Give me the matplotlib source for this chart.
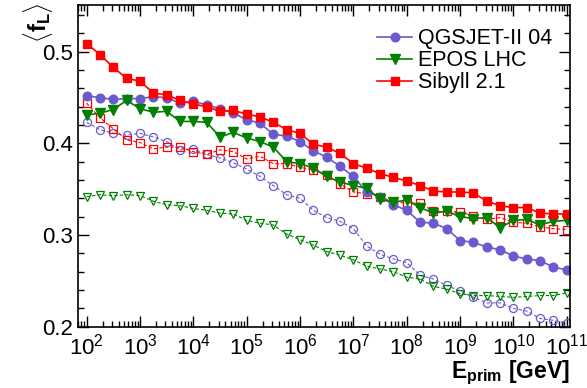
import numpy as np
import matplotlib.pyplot as plt
from matplotlib.ticker import MultipleLocator, FixedLocator, FuncFormatter, LogLocator

plt.rcParams['font.family'] = ['Liberation Sans', 'DejaVu Sans']
plt.rcParams['mathtext.fontset'] = 'custom'
plt.rcParams['mathtext.rm'] = 'Liberation Sans'
plt.rcParams['mathtext.it'] = 'Liberation Sans:italic'
plt.rcParams['mathtext.bf'] = 'Liberation Sans:bold'

# log10(E_prim / GeV)
log_e = np.arange(2.0, 11.01, 0.25)

# filled markers, solid lines
qgsjet = [0.452, 0.450, 0.448, 0.449, 0.449, 0.451, 0.450, 0.444, 0.446, 0.442,
          0.438, 0.433, 0.426, 0.422, 0.410, 0.408, 0.402, 0.392, 0.385, 0.375,
          0.364, 0.347, 0.342, 0.333, 0.327, 0.314, 0.313, 0.307, 0.294, 0.292,
          0.287, 0.284, 0.277, 0.274, 0.272, 0.265, 0.262]
epos = [0.431, 0.433, 0.437, 0.447, 0.438, 0.434, 0.435, 0.424, 0.424, 0.423,
        0.407, 0.412, 0.406, 0.402, 0.396, 0.380, 0.378, 0.373, 0.364, 0.358,
        0.354, 0.351, 0.339, 0.336, 0.338, 0.330, 0.324, 0.326, 0.320, 0.318,
        0.319, 0.308, 0.316, 0.317, 0.311, 0.315, 0.316]
sibyll = [0.509, 0.497, 0.483, 0.471, 0.468, 0.455, 0.453, 0.447, 0.443, 0.440,
          0.435, 0.436, 0.432, 0.429, 0.423, 0.415, 0.411, 0.399, 0.396, 0.389,
          0.378, 0.373, 0.367, 0.363, 0.359, 0.354, 0.348, 0.347, 0.347, 0.346,
          0.337, 0.332, 0.330, 0.330, 0.324, 0.323, 0.323]

# open markers, dashed lines
qgsjet_open = [0.423, 0.415, 0.411, 0.409, 0.411, 0.407, 0.402, 0.393, 0.394, 0.388,
               0.384, 0.379, 0.372, 0.364, 0.354, 0.344, 0.340, 0.327, 0.319, 0.315,
               0.307, 0.288, 0.279, 0.274, 0.270, 0.256, 0.252, 0.245, 0.239, 0.232,
               0.226, 0.226, 0.220, 0.217, 0.209, 0.207, 0.204]
epos_open = [0.342, 0.344, 0.343, 0.344, 0.343, 0.337, 0.333, 0.332, 0.329, 0.327,
             0.324, 0.323, 0.316, 0.313, 0.311, 0.301, 0.295, 0.289, 0.282, 0.278,
             0.273, 0.266, 0.263, 0.260, 0.254, 0.252, 0.244, 0.241, 0.236, 0.234,
             0.234, 0.233, 0.232, 0.233, 0.234, 0.234, 0.237]
sibyll_open = [0.444, 0.428, 0.416, 0.404, 0.401, 0.394, 0.396, 0.396, 0.391, 0.388,
               0.393, 0.391, 0.383, 0.386, 0.378, 0.378, 0.374, 0.371, 0.366, 0.356,
               0.347, 0.345, 0.342, 0.336, 0.335, 0.335, 0.326, 0.326, 0.325, 0.321,
               0.317, 0.319, 0.314, 0.313, 0.309, 0.307, 0.306]

c_blue = '#6a5acd'
c_green = '#008000'
c_red = '#ff0000'

energy = 10.0 ** log_e

fig = plt.figure(figsize=(5.87, 3.88), dpi=100)
ax = fig.add_axes([0.133, 0.158, 0.838, 0.829])

ax.plot(energy, qgsjet_open, color=c_blue, ls=(0, (3, 2)), lw=0.8, marker='o', ms=5.8,
        mfc='none', mec=c_blue, mew=0.9)
ax.plot(energy, epos_open, color=c_green, ls=(0, (3, 2)), lw=0.8, marker='v', ms=5.8,
        mfc='none', mec=c_green, mew=0.9)
ax.plot(energy, sibyll_open, color=c_red, ls=(0, (3, 2)), lw=0.8, marker='s', ms=5.2,
        mfc='none', mec=c_red, mew=0.9)

ax.plot(energy, qgsjet, color=c_blue, lw=1.2, marker='o', ms=6.2, label='QGSJET-II 04')
ax.plot(energy, epos, color=c_green, lw=1.2, marker='v', ms=6.5, label='EPOS LHC')
ax.plot(energy, sibyll, color=c_red, lw=1.2, marker='s', ms=5.6, label='Sibyll 2.1')

ax.set_xscale('log')
ax.set_xlim(10 ** 1.84, 10 ** 11.06)
ax.set_ylim(0.2, 0.551)

ax.xaxis.set_major_locator(FixedLocator(10.0 ** np.arange(2, 12)))
ax.xaxis.set_major_formatter(FuncFormatter(lambda v, p: r'$10^{%d}$' % round(np.log10(v))))
ax.xaxis.set_minor_locator(LogLocator(base=10, subs=np.arange(2, 10), numticks=20))
ax.yaxis.set_major_locator(MultipleLocator(0.1))
ax.yaxis.set_minor_locator(MultipleLocator(0.02))
ax.yaxis.set_major_formatter(FuncFormatter(lambda v, p: '%.1f' % v))

ax.tick_params(which='both', direction='in', top=True, right=True, labelsize=16)
ax.tick_params(which='major', length=8, width=1)
ax.tick_params(which='minor', length=4, width=1)
ax.tick_params(axis='x', pad=5)
ax.tick_params(axis='y', pad=4)
for s in ax.spines.values():
    s.set_linewidth(1.2)

ax.set_xlabel(r'$\mathbf{E_{prim}}$ [GeV]', fontsize=16.5, fontweight='bold', loc='right', labelpad=-1)
# y label sits at the top-left corner, like the ROOT original
fig.text(38 / 587, 1 - 23 / 388, r'$\langle\mathbf{f_{L}}\rangle$', fontsize=17,
         rotation=90, ha='center', va='center')

ax.legend(loc='upper right', frameon=False, fontsize=15.5, handlelength=1.6, handletextpad=0.3,
          labelspacing=0.05, borderaxespad=0.3, bbox_to_anchor=(0.995, 0.975))

fig.savefig('out.png', dpi=100)
